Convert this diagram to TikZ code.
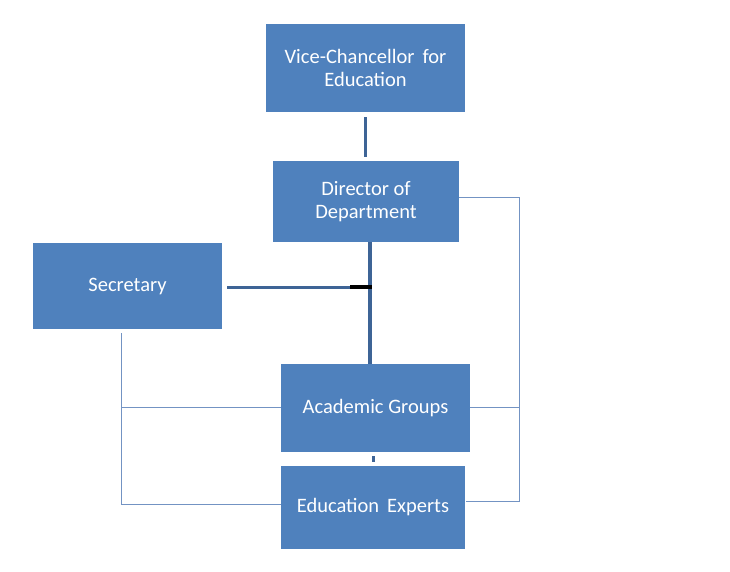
\documentclass[tikz,border=0pt]{standalone}
\usepackage{fontspec}
\setmainfont{Carlito}
\usetikzlibrary{calc}
\definecolor{boxblue}{HTML}{4F81BD}
\definecolor{linkblue}{HTML}{3E6496}
\definecolor{thinblue}{HTML}{7393C3}
\begin{document}
\begin{tikzpicture}[x=1pt,y=-1pt,
  orgbox/.style={fill=boxblue, draw=none, text=white, align=center,
    font=\fontsize{20.5}{23}\selectfont, inner sep=0pt},
  thick link/.style={draw=linkblue, line width=3.2pt},
  thin link/.style={draw=thinblue, line width=1pt}]
\useasboundingbox (0,0) rectangle (730,572);
\fill[white] (0,0) rectangle (730,572);
\node[orgbox, minimum width=199pt, minimum height=88pt] (vc) at (365.5,68) {Vice-Chancellor\, for\\Education};
\node[orgbox, minimum width=186pt, minimum height=81pt] (dir) at (366,201.5) {Director of\\Department};
\node[orgbox, minimum width=189pt, minimum height=86pt] (sec) at (127.5,286) {Secretary};
\node[orgbox, minimum width=189pt, minimum height=88pt] (ag) at (375.5,408) {Academic Groups};
\node[orgbox, minimum width=184pt, minimum height=83pt] (ee) at (373,507.5) {Education\, Experts};
% thick links
\coordinate (v1) at ($(vc.south)+(0,5)$);
\coordinate (v2) at ($(dir.north)+(-0.5,-4)$);
\draw[thick link] (v1) -- (v2);
\coordinate (d1) at ($(dir.south)+(4,0)$);
\coordinate (d2) at ($(ag.north)+(-5.5,0)$);
\draw[thick link, line width=4pt] (d1) -- (d2);
\coordinate (s1) at ($(sec.east)+(5,1)$);
\coordinate (s2) at (350,287);
\coordinate (s3) at (372,287);
\draw[thick link, line width=3pt] (s1) -- (s2);
\draw[black, line width=3.2pt] (s2) -- (s3);
\coordinate (a1) at ($(ag.south)+(-2.5,4)$);
\coordinate (a2) at ($(ee.north)+(0,-4)$);
\draw[thick link, line width=3pt] (a1) -- (a2);
% right bracket
\coordinate (r1) at ($(dir.east)+(0,-4.5)$);
\coordinate (r2) at (519,197);
\coordinate (r3) at (519,501);
\coordinate (r4) at ($(ee.east)+(1,-6.5)$);
\coordinate (r5) at (519,407);
\draw[thin link] (r1) -- (r2) -- (r3) -- (r4);
\draw[thin link] (ag.east |- r5) -- (r5);
% left bracket
\coordinate (l1) at (121,333);
\coordinate (l2) at (121,504);
\coordinate (l3) at (121,407);
\draw[thin link] (l1) -- (l2) -- (ee.west |- l2);
\draw[thin link] (l3) -- (ag.west |- l3);
\end{tikzpicture}
\end{document}
